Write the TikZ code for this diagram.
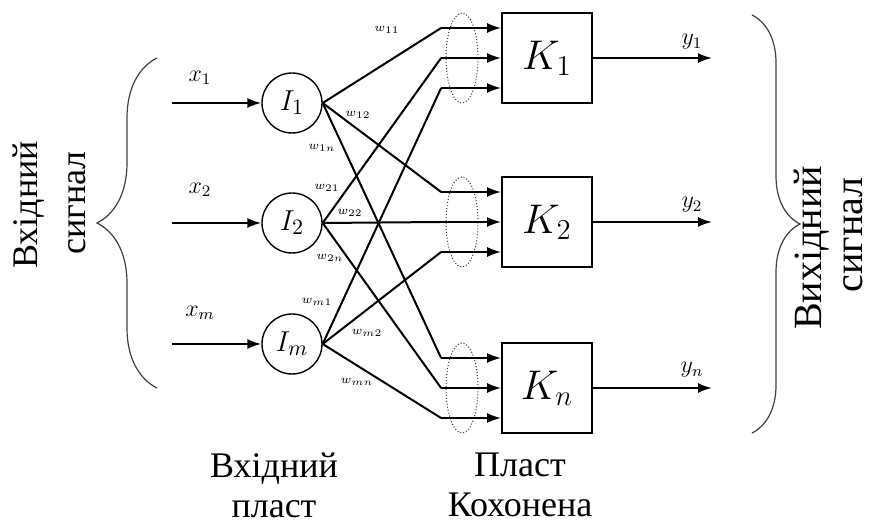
\documentclass[tikz,border=0pt]{standalone}
\usepackage{fontspec}
\setmainfont{Liberation Serif}
\usetikzlibrary{arrows.meta,shapes.geometric,decorations.pathreplacing}
\tikzset{
  neuron/.style={circle, draw, line width=0.7pt, minimum size=30pt, inner sep=0pt, font=\fontsize{15}{15}\selectfont},
  kohonen/.style={rectangle, draw, line width=0.9pt, minimum size=45pt, inner sep=0pt, font=\fontsize{20}{20}\selectfont},
  group/.style={ellipse, draw, densely dotted, line width=0.5pt, black!80, minimum width=16pt, minimum height=45pt, inner sep=0pt},
  link/.style={line width=1pt},
  sig/.style={line width=1pt, -{Latex[length=7pt,width=5pt]}},
  weight/.style={font=\fontsize{6}{6}\selectfont, inner sep=0pt},
  varlbl/.style={font=\fontsize{12}{12}\selectfont, inner sep=0pt},
  lbl/.style={font=\fontsize{18}{20}\selectfont, align=center, inner sep=0pt},
  curly/.style={decorate, line width=0.6pt, black!75},
}
\begin{document}
\begin{tikzpicture}[x=0.5pt, y=-0.5pt]
\useasboundingbox (0,0) rectangle (871,522);

\node[neuron] (I1) at (292,103) {$I_1$};
\node[neuron] (I2) at (292,223) {$I_2$};
\node[neuron] (Im) at (292,344) {$I_m$};

\node[kohonen] (K1) at (547,58) {$K_1$};
\node[kohonen] (K2) at (547,222) {$K_2$};
\node[kohonen] (Kn) at (547,388) {$K_n$};

\node[group] (G1) at (462,58) {};
\node[group] (G2) at (462,222) {};
\node[group] (Gn) at (462,388) {};

\coordinate (x1) at (172,103);
\coordinate (x2) at (172,223);
\coordinate (xm) at (172,344);
\draw[sig] (x1) -- (I1);
\draw[sig] (x2) -- (I2);
\draw[sig] (xm) -- (Im);
\node[varlbl] at (200,78) {$x_1$};
\node[varlbl] at (200,190) {$x_2$};
\node[varlbl] at (200,313) {$x_m$};

\foreach \i/\d in {1/15,2/0,m/-15}{
  \foreach \j in {1,2,n}{
    \coordinate (e\i\j) at ([xshift=-30pt,yshift=\d pt]K\j.west);
    \draw[link] (I\i.east) -- (e\i\j);
    \draw[sig] (e\i\j) -- (e\i\j -| K\j.west);
  }
}

\node[weight] at (387,30) {$w_{11}$};
\node[weight] at (358,115) {$w_{12}$};
\node[weight] at (322,148) {$w_{1n}$};
\node[weight] at (327,188) {$w_{21}$};
\node[weight] at (350,213) {$w_{22}$};
\node[weight] at (330,258) {$w_{2n}$};
\node[weight] at (317,302) {$w_{m1}$};
\node[weight] at (367,333) {$w_{m2}$};
\node[weight] at (357,382) {$w_{mn}$};

\coordinate (y1) at (712,58);
\coordinate (y2) at (712,222);
\coordinate (yn) at (712,388);
\draw[sig] (K1) -- (y1);
\draw[sig] (K2) -- (y2);
\draw[sig] (Kn) -- (yn);
\node[varlbl] at (692,42) {$y_1$};
\node[varlbl] at (692,205) {$y_2$};
\node[varlbl] at (692,370) {$y_n$};

\draw[curly, decoration={brace, amplitude=30pt}] (157,388) -- (157,58);
\draw[curly, decoration={brace, amplitude=24pt}] (752,15) -- (752,433);

\node[lbl, rotate=90] at (29,205) {Вхідний};
\node[lbl, rotate=90] at (77,203) {сигнал};
\node[lbl, rotate=90, font=\fontsize{20}{22}\selectfont] at (812,248) {Вихідний};
\node[lbl, rotate=90, font=\fontsize{20}{22}\selectfont] at (853,235) {сигнал};
\node[lbl] at (274,485) {Вхідний\\пласт};
\node[lbl] at (520,485) {Пласт\\Кохонена};
\end{tikzpicture}
\end{document}
